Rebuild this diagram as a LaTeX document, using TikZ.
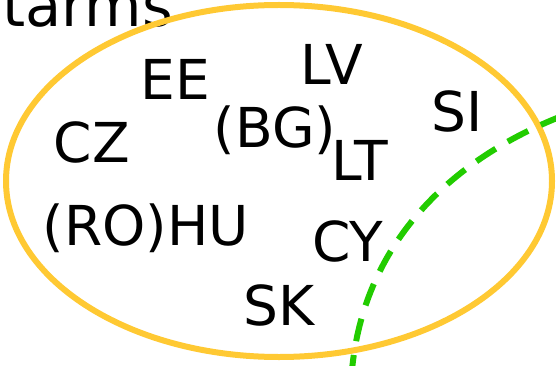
\documentclass[tikz,border=0pt]{standalone}
\usepackage{fontspec}
\setmainfont{DejaVu Sans}
\definecolor{setgold}{HTML}{FFC933}
\definecolor{setgreen}{HTML}{22CC00}
\begin{document}
\begin{tikzpicture}[x=1pt, y=-1pt, line join=round,
    font=\fontsize{55}{62}\selectfont,
    code/.style={anchor=base, inner sep=0pt}]
			\useasboundingbox (0,0) rectangle (556,366);
			\clip (0,0) rectangle (556,366);
			\node[anchor=base west, inner sep=0pt, font=\fontsize{59}{66}\selectfont] (title) at (2,27) {tarms};
			\draw[setgold, line width=6pt] (279,181) ellipse [x radius=273, y radius=176];
			\foreach \n/\t/\x/\y in {ee/EE/175/100, lv/LV/332/85, si/SI/457/132,
				cz/CZ/92/163, bg/(BG)/275/148, lt/LT/360/180,
				rohu/(RO)HU/146/245, cy/CY/348/261, sk/SK/279/325}
			\node[code] (\n) at (\x,\y) {\t};
			\draw[setgreen, line width=6pt, dash pattern=on 23pt off 14pt]
				(562,116) .. controls (430,168) and (362,262) .. (352,370);
		\end{tikzpicture}
\end{document}
